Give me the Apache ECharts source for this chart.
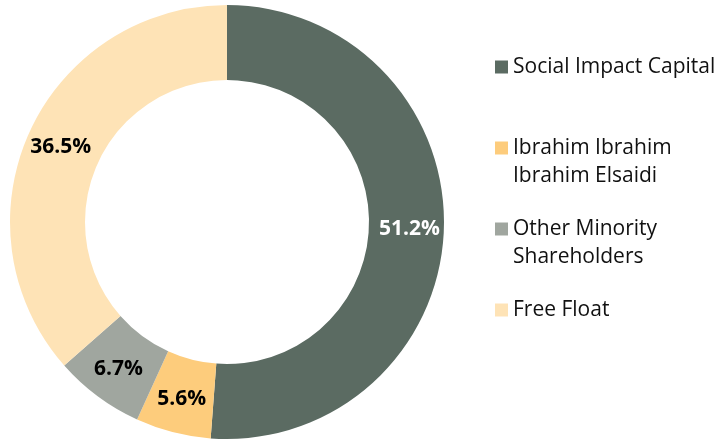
<!DOCTYPE html>
<html>
<head>
<meta charset="utf-8">
<script src="https://cdn.jsdelivr.net/npm/echarts@6/dist/echarts.min.js"></script>
<style>
  html, body { margin: 0; padding: 0; background: #fff; }
  #main { width: 715px; height: 442px; }
</style>
</head>
<body>
<div id="main"></div>
<script>
// shareholding structure
var categories = ['Social Impact Capital', 'Ibrahim Ibrahim Ibrahim Elsaidi', 'Other Minority Shareholders', 'Free Float'];
var legendText = ['Social Impact Capital', 'Ibrahim Ibrahim\nIbrahim Elsaidi', 'Other Minority\nShareholders', 'Free Float'];
var shares = [51.2, 5.6, 6.7, 36.5];
var colors = ['#5b6b62', '#fdcc7c', '#a0a69f', '#fee3b6'];
var labelColors = ['#ffffff', '#000000', '#000000', '#000000'];

var myChart = echarts.init(document.getElementById('main'));

var pieData = categories.map(function (name, i) {
    return {
        name: name,
        value: shares[i],
        itemStyle: { color: colors[i] },
        label: { color: labelColors[i] }
    };
});

var option = {
    animation: false,
    color: colors,
    legend: {
        orient: 'vertical',
        left: 490,
        top: 20,
        itemWidth: 13,
        itemHeight: 13,
        itemGap: -3,
        icon: 'rect',
        selectedMode: false,
        data: categories,
        // three text lines per item, the first text line sits in the middle next to the icon
        formatter: function (name) {
            var t = legendText[categories.indexOf(name)];
            return t.indexOf('\n') >= 0 ? '\n' + t : '\n' + t + '\n';
        },
        textStyle: {
            fontFamily: 'Open Sans',
            fontSize: 21,
            lineHeight: 28,
            color: '#111'
        }
    },
    series: [{
        type: 'pie',
        center: [227, 222],
        radius: [142, 217],
        startAngle: 90,
        clockwise: true,
        avoidLabelOverlap: false,
        silent: true,
        label: {
            show: true,
            position: 'inside',
            fontFamily: 'Open Sans',
            fontWeight: 'bold',
            fontSize: 21,
            formatter: function (p) { return p.value.toFixed(1) + '%'; }
        },
        labelLine: { show: false },
        data: pieData
    }]
};

myChart.setOption(option);
</script>
</body>
</html>
